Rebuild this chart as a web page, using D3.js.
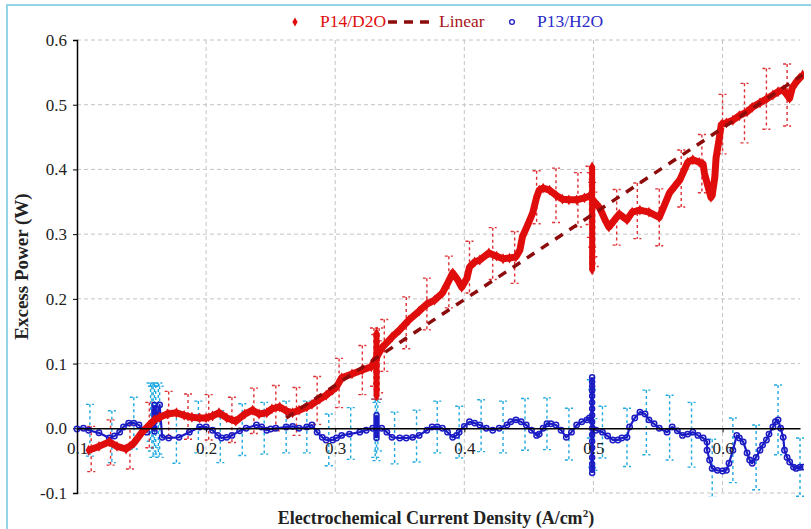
<!DOCTYPE html>
<html>
<head>
<meta charset="utf-8">
<script src="https://cdn.jsdelivr.net/npm/d3@7"></script>
<style>
  body { margin: 0; background: #fff; }
  text { font-family: "Liberation Serif", "Times New Roman", serif; }
</style>
</head>
<body>
<div id="main"></div>
<script>
// P14/D2O excess power (red diamonds)
const p14 = [[0.109,-0.034],[0.117,-0.028],[0.125,-0.021],[0.131,-0.028],[0.138,-0.032],[0.144,-0.023],[0.150,-0.007],[0.156,0.005],[0.160,0.013],[0.164,0.017],[0.170,0.022],[0.177,0.024],[0.183,0.020],[0.189,0.017],[0.195,0.016],[0.200,0.016],[0.205,0.019],[0.210,0.024],[0.216,0.016],[0.223,0.011],[0.230,0.022],[0.236,0.028],[0.241,0.022],[0.247,0.024],[0.251,0.030],[0.257,0.033],[0.262,0.027],[0.267,0.024],[0.272,0.028],[0.278,0.033],[0.282,0.037],[0.288,0.045],[0.293,0.051],[0.298,0.059],[0.301,0.064],[0.305,0.078],[0.313,0.084],[0.321,0.090],[0.328,0.095],[0.336,0.124],[0.344,0.141],[0.350,0.152],[0.357,0.167],[0.365,0.181],[0.371,0.192],[0.377,0.198],[0.383,0.209],[0.387,0.224],[0.391,0.240],[0.395,0.229],[0.398,0.218],[0.402,0.232],[0.404,0.249],[0.408,0.257],[0.412,0.260],[0.419,0.271],[0.425,0.266],[0.430,0.262],[0.435,0.263],[0.440,0.265],[0.443,0.275],[0.445,0.296],[0.449,0.314],[0.453,0.333],[0.456,0.357],[0.458,0.368],[0.461,0.371],[0.466,0.368],[0.471,0.360],[0.476,0.354],[0.481,0.353],[0.487,0.353],[0.493,0.356],[0.497,0.359],[0.505,0.340],[0.509,0.322],[0.512,0.311],[0.516,0.321],[0.520,0.331],[0.526,0.322],[0.530,0.334],[0.536,0.337],[0.543,0.334],[0.551,0.326],[0.555,0.345],[0.559,0.364],[0.563,0.374],[0.567,0.384],[0.571,0.402],[0.573,0.411],[0.577,0.415],[0.582,0.411],[0.585,0.408],[0.586,0.394],[0.588,0.379],[0.591,0.357],[0.592,0.360],[0.594,0.388],[0.595,0.418],[0.597,0.442],[0.599,0.469],[0.603,0.472],[0.608,0.476],[0.613,0.483],[0.619,0.489],[0.623,0.496],[0.629,0.503],[0.634,0.509],[0.639,0.515],[0.643,0.520],[0.647,0.523],[0.650,0.515],[0.652,0.510],[0.654,0.526],[0.657,0.535],[0.662,0.546]];

// P13/H2O excess power (blue circles)
const p13 = [[0.100,-0.001],[0.105,0.000],[0.109,-0.003],[0.117,-0.007],[0.125,-0.015],[0.129,-0.012],[0.133,-0.006],[0.136,0.002],[0.140,0.008],[0.144,0.008],[0.148,0.005],[0.154,-0.006],[0.158,0.005],[0.162,0.016],[0.164,0.036],[0.166,-0.014],[0.171,-0.015],[0.179,-0.014],[0.187,-0.006],[0.195,0.002],[0.200,0.002],[0.205,-0.003],[0.209,-0.011],[0.212,-0.015],[0.216,-0.014],[0.220,-0.011],[0.226,-0.004],[0.231,0.000],[0.239,0.005],[0.243,0.002],[0.247,-0.003],[0.250,-0.001],[0.254,0.000],[0.262,0.002],[0.267,0.003],[0.272,0.000],[0.278,0.002],[0.282,0.005],[0.286,-0.006],[0.290,-0.014],[0.293,-0.018],[0.298,-0.018],[0.301,-0.015],[0.305,-0.011],[0.311,-0.009],[0.319,-0.006],[0.324,-0.003],[0.329,0.000],[0.336,0.000],[0.340,-0.006],[0.344,-0.014],[0.350,-0.015],[0.355,-0.015],[0.360,-0.014],[0.365,-0.011],[0.371,-0.003],[0.375,0.002],[0.379,0.002],[0.383,0.000],[0.387,-0.006],[0.391,-0.014],[0.394,-0.011],[0.396,-0.006],[0.400,0.003],[0.404,0.010],[0.408,0.008],[0.412,0.005],[0.417,0.000],[0.422,-0.003],[0.427,0.000],[0.433,0.005],[0.436,0.010],[0.440,0.013],[0.444,0.010],[0.448,0.005],[0.452,-0.003],[0.456,-0.011],[0.458,-0.009],[0.461,0.000],[0.464,0.007],[0.467,0.007],[0.471,0.005],[0.475,-0.003],[0.479,-0.014],[0.483,-0.006],[0.487,0.005],[0.491,0.010],[0.495,0.013],[0.497,0.016],[0.502,-0.003],[0.507,-0.006],[0.511,-0.012],[0.515,-0.018],[0.519,-0.018],[0.522,-0.015],[0.526,-0.014],[0.528,0.002],[0.532,0.016],[0.536,0.025],[0.540,0.022],[0.543,0.013],[0.547,0.007],[0.551,0.000],[0.557,-0.006],[0.561,0.002],[0.565,-0.004],[0.569,-0.011],[0.573,-0.009],[0.577,-0.006],[0.581,-0.011],[0.585,-0.015],[0.588,-0.021],[0.588,-0.034],[0.590,-0.049],[0.592,-0.062],[0.596,-0.065],[0.600,-0.066],[0.603,-0.065],[0.605,-0.054],[0.608,-0.034],[0.611,-0.011],[0.613,-0.015],[0.616,-0.021],[0.619,-0.038],[0.621,-0.049],[0.623,-0.054],[0.626,-0.045],[0.629,-0.034],[0.631,-0.026],[0.634,-0.018],[0.636,-0.009],[0.639,0.002],[0.641,0.010],[0.643,0.013],[0.645,0.000],[0.647,-0.014],[0.648,-0.034],[0.650,-0.045],[0.652,-0.052],[0.655,-0.060],[0.657,-0.062],[0.660,-0.060],[0.662,-0.060]];

// repeated readings at the same current density
const redClusterX = [0.332, 0.499];
const redClusterY = [
  [0.147, 0.135, 0.120, 0.105, 0.095, 0.085, 0.070, 0.060, 0.050],
  [0.404, 0.395, 0.385, 0.370, 0.355, 0.340, 0.325, 0.310, 0.295, 0.280, 0.265, 0.255, 0.245]
];
const blueClusterX = [0.160, 0.332, 0.499];
const blueClusterY = [
  [0.036, 0.030, 0.025, 0.020, 0.010, 0.000, -0.005],
  [0.020, 0.015, 0.010, 0.005, 0.000, -0.005, -0.010, -0.015],
  [0.079, 0.072, 0.065, 0.058, 0.050, 0.040, 0.030, 0.020, 0.010, 0.000, -0.010, -0.020, -0.030, -0.045, -0.055, -0.062, -0.069]
];

// error bars: [x, y, half length]
const p14Err = [[0.111,-0.032,0.035],[0.126,-0.022,0.035],[0.141,-0.028,0.035],[0.156,0.005,0.035],[0.171,0.022,0.035],[0.186,0.018,0.035],[0.202,0.017,0.035],[0.220,0.013,0.035],[0.237,0.027,0.035],[0.254,0.031,0.035],[0.270,0.026,0.037],[0.286,0.043,0.037],[0.303,0.070,0.038],[0.321,0.090,0.038],[0.330,0.110,0.045],[0.331,0.095,0.05],[0.333,0.090,0.045],[0.334,0.105,0.05],[0.338,0.128,0.04],[0.355,0.163,0.04],[0.371,0.192,0.04],[0.388,0.226,0.04],[0.404,0.249,0.04],[0.422,0.270,0.04],[0.439,0.264,0.04],[0.456,0.357,0.041],[0.471,0.360,0.042],[0.488,0.353,0.042],[0.497,0.360,0.045],[0.498,0.345,0.05],[0.499,0.330,0.05],[0.500,0.315,0.05],[0.501,0.300,0.05],[0.518,0.326,0.043],[0.534,0.336,0.043],[0.551,0.326,0.044],[0.568,0.386,0.044],[0.584,0.409,0.045],[0.600,0.470,0.046],[0.617,0.487,0.046],[0.634,0.509,0.047],[0.650,0.515,0.048]];
const p13Err = [[0.110,-0.003,0.04],[0.127,-0.013,0.04],[0.144,0.008,0.04],[0.157,0.025,0.045],[0.158,0.015,0.05],[0.159,0.010,0.055],[0.160,0.020,0.05],[0.161,0.012,0.055],[0.163,0.015,0.055],[0.164,0.010,0.055],[0.177,-0.014,0.04],[0.194,0.002,0.04],[0.211,-0.013,0.04],[0.228,-0.002,0.04],[0.245,0.000,0.04],[0.262,0.002,0.04],[0.278,0.002,0.04],[0.295,-0.018,0.04],[0.312,-0.008,0.04],[0.331,0.000,0.045],[0.332,-0.005,0.045],[0.333,0.005,0.04],[0.346,-0.015,0.04],[0.363,-0.012,0.04],[0.379,0.002,0.04],[0.396,-0.006,0.04],[0.413,0.004,0.04],[0.430,0.002,0.04],[0.447,0.006,0.04],[0.464,0.007,0.04],[0.481,-0.009,0.04],[0.498,0.030,0.045],[0.499,0.000,0.06],[0.500,-0.025,0.04],[0.507,-0.006,0.04],[0.526,-0.014,0.045],[0.541,0.009,0.05],[0.559,0.001,0.05],[0.576,-0.010,0.05],[0.592,-0.062,0.045],[0.608,-0.034,0.05],[0.626,-0.045,0.05],[0.643,0.013,0.054],[0.660,-0.060,0.045]];

// fitted line
const linearX = [0.262, 0.662];
const linearY = [0.016, 0.546];

const xTicks = [0.1, 0.2, 0.3, 0.4, 0.5, 0.6];
const yTicks = [-0.1, 0, 0.1, 0.2, 0.3, 0.4, 0.5, 0.6];

const width = 811;
const height = 529;
const margin = { top: 40, right: 11, bottom: 36, left: 77 };

const red = "#e00d0d";
const redBar = "#de2f33";
const darkRed = "#8e0b0b";
const blue = "#1c1cc4";
const cyan = "#1fa9e0";

const tickFmt = d => d.toFixed(1);

const x = d3.scaleLinear()
    .domain([0.1, 0.66])
    .range([margin.left, width - margin.right]);

const y = d3.scaleLinear()
    .domain([-0.1, 0.6])
    .range([height - margin.bottom, margin.top]);

const svg = d3.select("#main").append("svg")
    .attr("width", width)
    .attr("height", height)
    .attr("viewBox", [0, 0, width, height]);

// light blue frame
svg.append("rect")
    .attr("x", 7).attr("y", 5)
    .attr("width", width + 20).attr("height", height + 20)
    .attr("fill", "none")
    .attr("stroke", "#92d5e8")
    .attr("stroke-width", 2);

svg.append("defs").append("clipPath").attr("id", "plot")
    .append("rect")
    .attr("x", margin.left - 4).attr("y", margin.top - 10)
    .attr("width", width - margin.right - margin.left + 8)
    .attr("height", height - margin.bottom - margin.top + 14);

// grid
const grid = svg.append("g")
    .attr("stroke", "#c4c4c4")
    .attr("stroke-dasharray", "4,3");
grid.selectAll(".gy")
    .data(yTicks.filter(d => d !== 0))
    .join("line")
    .attr("x1", margin.left).attr("x2", width - margin.right)
    .attr("y1", d => y(d)).attr("y2", d => y(d));
grid.selectAll(".gx")
    .data(xTicks.slice(1))
    .join("line")
    .attr("x1", d => x(d)).attr("x2", d => x(d))
    .attr("y1", y(0.6)).attr("y2", y(-0.1));

// y axis
svg.append("g")
    .attr("transform", `translate(${margin.left},0)`)
    .call(d3.axisLeft(y).tickValues(yTicks).tickFormat(tickFmt).tickSize(4).tickPadding(6))
    .call(g => g.attr("font-family", "Liberation Serif").attr("font-size", 17))
    .call(g => g.select(".domain").attr("stroke-width", 1.5))
    .call(g => g.selectAll("text").attr("fill", "#222"));

const plot = svg.append("g").attr("clip-path", "url(#plot)");

const errBars = (data, color) => {
    const g = plot.append("g")
        .attr("stroke", color)
        .attr("stroke-width", 1.4)
        .attr("stroke-dasharray", "3,3")
        .attr("fill", "none");
    g.selectAll("path")
        .data(data)
        .join("path")
        .attr("d", d => {
            const cx = x(d[0]), t = y(d[1] + d[2]), b = y(d[1] - d[2]);
            return `M${cx},${t}V${b}M${cx - 4},${t}H${cx + 4}M${cx - 4},${b}H${cx + 4}`;
        });
};

errBars(p13Err, cyan);
errBars(p14Err, redBar);

const line = d3.line()
    .x(d => x(d[0]))
    .y(d => y(d[1]));

// blue series
plot.append("path")
    .datum(p13)
    .attr("fill", "none")
    .attr("stroke", blue)
    .attr("stroke-width", 2.2)
    .attr("stroke-linejoin", "round")
    .attr("d", line);

blueClusterX.forEach((cx, i) => {
    const pts = blueClusterY[i].map(v => [cx, v]);
    plot.append("path")
        .datum(pts)
        .attr("fill", "none")
        .attr("stroke", blue)
        .attr("stroke-width", 3.5)
        .attr("d", line);
    plot.append("g").selectAll("circle")
        .data(pts)
        .join("circle")
        .attr("cx", d => x(d[0]))
        .attr("cy", d => y(d[1]))
        .attr("r", 2.5)
        .attr("fill", "none")
        .attr("stroke", blue)
        .attr("stroke-width", 1.5);
});

plot.append("g").selectAll("circle")
    .data(p13)
    .join("circle")
    .attr("cx", d => x(d[0]))
    .attr("cy", d => y(d[1]))
    .attr("r", 2.7)
    .attr("fill", "none")
    .attr("stroke", blue)
    .attr("stroke-width", 1.5);

// x axis along zero
svg.append("g")
    .attr("transform", `translate(0,${y(0)})`)
    .call(d3.axisBottom(x).tickValues(xTicks).tickFormat(tickFmt).tickSize(4).tickPadding(10).tickSizeOuter(0))
    .call(g => g.attr("font-family", "Liberation Serif").attr("font-size", 17))
    .call(g => g.select(".domain").attr("stroke-width", 1.5))
    .call(g => g.selectAll("text").attr("fill", "#222"));

// red series
const diamond = d3.symbol().type(d3.symbolDiamond).size(34);

plot.append("path")
    .datum(p14)
    .attr("fill", "none")
    .attr("stroke", red)
    .attr("stroke-width", 7)
    .attr("stroke-linejoin", "round")
    .attr("d", line);

redClusterX.forEach((cx, i) => {
    plot.append("path")
        .datum(redClusterY[i].map(v => [cx, v]))
        .attr("fill", "none")
        .attr("stroke", red)
        .attr("stroke-width", 6)
        .attr("d", line);
});

plot.append("g").selectAll("path")
    .data(p14.concat(...redClusterX.map((cx, i) => redClusterY[i].map(v => [cx, v]))))
    .join("path")
    .attr("transform", d => `translate(${x(d[0])},${y(d[1])})`)
    .attr("d", diamond)
    .attr("fill", red);

// linear fit
plot.append("path")
    .datum(linearX.map((v, i) => [v, linearY[i]]))
    .attr("fill", "none")
    .attr("stroke", darkRed)
    .attr("stroke-width", 3.5)
    .attr("stroke-dasharray", "9,8")
    .attr("d", line);

// axis titles
svg.append("text")
    .attr("transform", `translate(28,${(y(0.6) + y(-0.1)) / 2}) rotate(-90)`)
    .attr("text-anchor", "middle")
    .attr("font-size", 19)
    .attr("font-weight", "bold")
    .attr("fill", "#222")
    .text("Excess Power (W)");

const xt = svg.append("text")
    .attr("x", 436)
    .attr("y", 524)
    .attr("text-anchor", "middle")
    .attr("font-size", 18)
    .attr("font-weight", "bold")
    .attr("fill", "#222");
xt.append("tspan").text("Electrochemical Current Density (A/cm");
xt.append("tspan").attr("font-size", 11).attr("dy", -7).text("2");
xt.append("tspan").attr("dy", 7).text(")");

// legend
const lg = svg.append("g").attr("font-size", 17.5);
lg.append("path")
    .attr("transform", "translate(295,22)")
    .attr("d", d3.symbol().type(d3.symbolDiamond).size(24))
    .attr("fill", red);
lg.append("text").attr("x", 320).attr("y", 27).attr("fill", red).text("P14/D2O");
lg.append("line")
    .attr("x1", 388).attr("x2", 430).attr("y1", 22).attr("y2", 22)
    .attr("stroke", darkRed).attr("stroke-width", 3.5).attr("stroke-dasharray", "9,7");
lg.append("text").attr("x", 439).attr("y", 27).attr("fill", "#a8141a").text("Linear");
lg.append("circle")
    .attr("cx", 512).attr("cy", 22).attr("r", 2.4)
    .attr("fill", "none").attr("stroke", blue).attr("stroke-width", 1.3);
lg.append("text").attr("x", 537).attr("y", 27).attr("fill", "#2a2ac8").text("P13/H2O");
</script>
</body>
</html>
